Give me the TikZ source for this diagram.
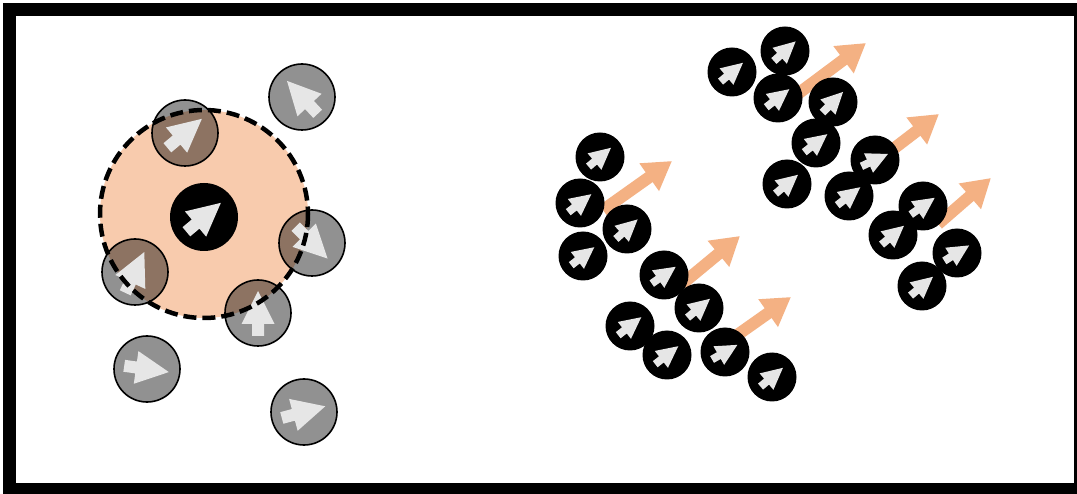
\documentclass[tikz,border=0pt]{standalone}
\usetikzlibrary{arrows.meta}
\definecolor{peach}{HTML}{F8CBAD}
\definecolor{orangearrow}{HTML}{F4B183}
\definecolor{cursorgray}{HTML}{E6E6E6}
\tikzset{
  graydot/.style={fill=black, fill opacity=0.43, draw=black, draw opacity=1, line width=1.6pt},
  blackdot/.style={fill=black},
  cursorshape/.style={fill=cursorgray},
  flowarrow/.style={draw=orangearrow, line width=12pt, -{Triangle[width=32pt,length=28pt]}},
  zone/.style={draw=black, line width=4.5pt, dash pattern=on 13pt off 6pt},
}
\newcommand\mycursor[4]{%
  \fill[cursorshape, shift={(#1,#2)}, rotate=#3, scale=#4]
    (22,0) -- (-11,16.5) -- (-11,6) -- (-23,6) -- (-23,-6) -- (-11,-6) -- (-11,-16.5) -- cycle;}
\newcommand\graybot[3]{\path[graydot] (#1,#2) circle[radius=33];}
\newcommand\blackbot[3]{\fill[blackdot] (#1,#2) circle[radius=24.5];\mycursor{#1}{#2}{#3}{0.65}}
\begin{document}
\begin{tikzpicture}[x=1pt,y=-1pt]
\useasboundingbox (0,0) rectangle (1077,494);
\fill[white] (0,0) rectangle (1077,494);
% left: neighbourhood
\fill[peach] (204,214) circle[radius=104];
\graybot{302}{97}{133}
\graybot{185}{133}{40}
\graybot{312}{243}{-45}
\graybot{135}{272}{65}
\graybot{258}{313}{90}
\graybot{147}{369}{-8}
\graybot{304}{412}{15}
\fill[blackdot] (204,217) circle[radius=34];
\mycursor{302}{97}{133}{1}
\mycursor{185}{133}{40}{1}
\mycursor{312}{243}{-45}{1}
\mycursor{135}{272}{65}{1}
\mycursor{258}{313}{90}{1}
\mycursor{147}{369}{-8}{1}
\mycursor{304}{412}{15}{1}
\mycursor{204}{217}{40}{1}
\draw[zone] (204,214) circle[radius=104];
% right: flocks
\draw[flowarrow] (603,210) -- (672,161);
\draw[flowarrow] (682,284) -- (740,236);
\draw[flowarrow] (733,338) -- (791,297);
\draw[flowarrow] (795,96) -- (866,43);
\draw[flowarrow] (888,153) -- (939,114);
\draw[flowarrow] (938,224) -- (991,178);
\blackbot{600}{157}{40}
\blackbot{580}{203}{38}
\blackbot{627}{229}{42}
\blackbot{583}{256}{38}
\blackbot{664}{275}{35}
\blackbot{699}{308}{40}
\blackbot{630}{326}{38}
\blackbot{667}{355}{38}
\blackbot{725}{352}{30}
\blackbot{772}{377}{40}
\blackbot{732}{72}{40}
\blackbot{785}{51}{42}
\blackbot{778}{98}{38}
\blackbot{833}{102}{45}
\blackbot{816}{143}{38}
\blackbot{787}{184}{40}
\blackbot{875}{160}{25}
\blackbot{849}{196}{38}
\blackbot{923}{206}{35}
\blackbot{893}{235}{40}
\blackbot{957}{253}{32}
\blackbot{922}{286}{40}
% frame
\draw[line width=13pt] (9.5,9.5) rectangle (1080.5,489.5);
\end{tikzpicture}
\end{document}
